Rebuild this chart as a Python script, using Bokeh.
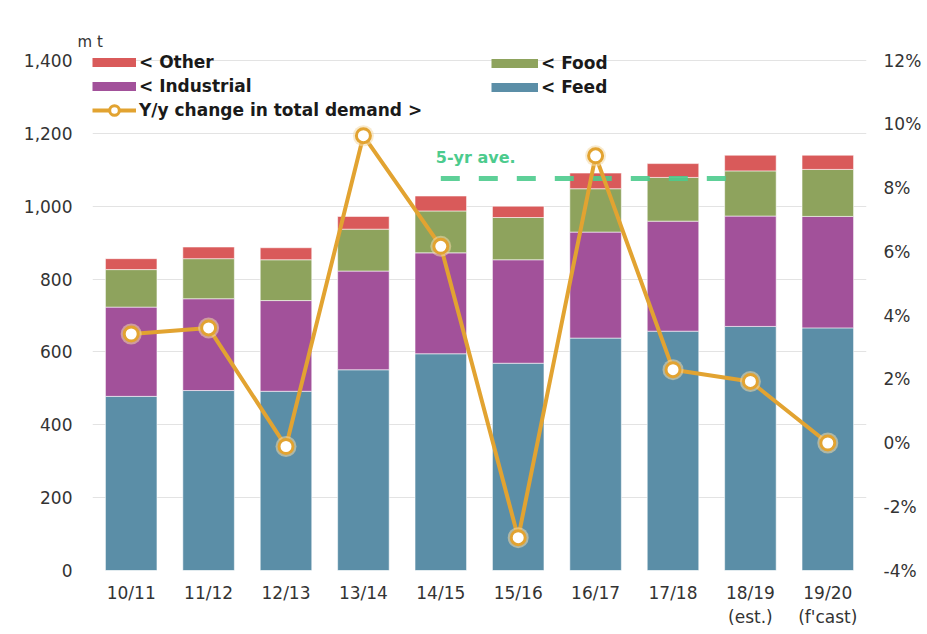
from bokeh.plotting import figure
from bokeh.models import (FactorRange, Range1d, LinearAxis, NumeralTickFormatter,
                          PrintfTickFormatter, Legend, LegendItem,
                          ColumnDataSource, FixedTicker)
from bokeh.transform import dodge
from bokeh.core.properties import value
from bokeh.embed import file_html
from bokeh.resources import INLINE

# ---------------- data ----------------
YEARS = ["10/11", "11/12", "12/13", "13/14", "14/15", "15/16", "16/17",
         "17/18", "18/19\n(est.)", "19/20\n(f'cast)"]
FEED = [478, 494, 492, 551, 595, 569, 638, 657, 670, 666]
INDUSTRIAL = [245, 252, 249, 271, 277, 284, 291, 302, 303, 306]
FOOD = [103, 110, 112, 115, 115, 116, 119, 120, 124, 129]
OTHER = [30, 32, 33, 35, 41, 31, 43, 38, 43, 39]
YOY = [3.42, 3.61, -0.11, 9.64, 6.17, -2.97, 9.01, 2.30, 1.93, 0.0]
AVE_5YR = 8.3
AVE_FROM = "14/15"
AVE_TO = "18/19\n(est.)"
LEFT_TICKS = [0, 200, 400, 600, 800, 1000, 1200, 1400]
RIGHT_TICKS = [-4, -2, 0, 2, 4, 6, 8, 10, 12]

# ---------------- style / layout ----------------
C_FEED = "#5b8ea7"
C_IND = "#a2519a"
C_FOOD = "#8ea35d"
C_OTHER = "#d95a5a"
GOLD = "#e2a331"
GREEN = "#4ccb8d"
FONT = "DejaVu Sans"
NAN = float("nan")

W, H = 925, 632
FRAME_TOP, FRAME_BOTTOM, TOP_TICK_PX = 50, 570, 60   # frame extends a bit above 1,400 so the legend fits
span_px = FRAME_BOTTOM - TOP_TICK_PX
extra = (TOP_TICK_PX - FRAME_TOP) / span_px
LEFT_MIN, LEFT_MAX = 0, 1400
RIGHT_MIN, RIGHT_MAX = -4, 12
left_top = LEFT_MAX + extra * (LEFT_MAX - LEFT_MIN)
right_top = RIGHT_MAX + extra * (RIGHT_MAX - RIGHT_MIN)

src = ColumnDataSource(dict(year=YEARS, feed=FEED, industrial=INDUSTRIAL,
                            food=FOOD, other=OTHER, yoy=YOY))

p = figure(width=W, height=H, x_range=FactorRange(*YEARS, range_padding=0),
           y_range=Range1d(LEFT_MIN, left_top), output_backend="svg",
           toolbar_location=None, title="m t",
           min_border_left=92, min_border_right=59, min_border_top=FRAME_TOP,
           min_border_bottom=H - FRAME_BOTTOM)
p.extra_y_ranges = {"pct": Range1d(RIGHT_MIN, right_top)}
p.outline_line_color = None
p.background_fill_color = "white"

p.title.text_font = FONT
p.title.text_font_size = "15px"
p.title.text_font_style = "normal"
p.title.text_color = "#333333"
p.title.align = "left"
p.title.offset = -15
p.title.standoff = 0

p.vbar_stack(["feed", "industrial", "food", "other"], x="year", width=0.666,
             color=[C_FEED, C_IND, C_FOOD, C_OTHER], source=src,
             line_color="white", line_width=0.8, line_alpha=0.7)

# 5-yr average
ave_src = ColumnDataSource(dict(x0=[AVE_FROM], x1=[AVE_TO], y=[AVE_5YR]))
p.segment(x0="x0", y0="y", x1=dodge("x1", -0.3, range=p.x_range), y1="y",
          source=ave_src, y_range_name="pct", line_color=GREEN, line_width=5,
          line_dash="19 19", line_alpha=0.9)
p.text(x="x0", y="y", text=value("5-yr ave."), source=ave_src, y_range_name="pct",
       x_offset=-5, y_offset=-21, text_align="left", text_baseline="middle",
       text_font=value(FONT), text_font_style="bold", text_font_size="16px",
       text_color=GREEN)

# y/y line
line_r = p.line(x="year", y="yoy", source=src, y_range_name="pct",
                line_color=GOLD, line_width=4)
p.scatter(x="year", y="yoy", source=src, y_range_name="pct", size=21,
          fill_color="#f2d9a6", fill_alpha=0.55, line_color=None)
sc_r = p.scatter(x="year", y="yoy", source=src, y_range_name="pct", size=14,
                 fill_color="white", line_color=GOLD, line_width=3)

# legend swatches (renderers with no visible data)
def swatch(color):
    return p.line(x=[YEARS[0], YEARS[0]], y=[NAN, NAN], line_color=color, line_width=9)

d_other, d_ind, d_food, d_feed = (swatch(c) for c in (C_OTHER, C_IND, C_FOOD, C_FEED))

def make_legend(items, loc, gw):
    return Legend(items=items, location=loc, orientation="vertical",
                  background_fill_alpha=0, border_line_alpha=0, padding=0,
                  margin=0, spacing=0, glyph_width=gw, glyph_height=24,
                  label_height=24, label_standoff=3,
                  label_text_font=FONT, label_text_font_style="bold",
                  label_text_font_size="17px", label_text_color="#1a1a1a")

fh = FRAME_BOTTOM - FRAME_TOP
leg1 = make_legend([LegendItem(label="< Other", renderers=[d_other]),
                    LegendItem(label="< Industrial", renderers=[d_ind]),
                    LegendItem(label="Y/y change in total demand >",
                               renderers=[line_r, sc_r])], (0, fh - 72), 44)
leg2 = make_legend([LegendItem(label="< Food", renderers=[d_food]),
                    LegendItem(label="< Feed", renderers=[d_feed])], (399, fh - 49), 47)
p.add_layout(leg1)
p.add_layout(leg2)

# axes
p.xgrid.grid_line_color = None
p.ygrid.grid_line_color = "#e3e3e3"
p.ygrid.grid_line_width = 1

p.yaxis.ticker = FixedTicker(ticks=LEFT_TICKS)
p.yaxis.formatter = NumeralTickFormatter(format="0,0")

right = LinearAxis(y_range_name="pct", ticker=FixedTicker(ticks=RIGHT_TICKS),
                   formatter=PrintfTickFormatter(format="%d%%"))
p.add_layout(right, "right")

for ax in [p.xaxis[0], p.yaxis[0], right]:
    ax.axis_line_color = None
    ax.major_tick_line_color = None
    ax.minor_tick_line_color = None
    ax.major_tick_out = 0
    ax.major_tick_in = 0
    ax.major_label_text_font = FONT
    ax.major_label_text_font_size = "17px"
    ax.major_label_text_color = "#333333"
p.yaxis[0].major_label_standoff = 20
right.major_label_standoff = 17
p.xaxis[0].major_label_standoff = 12

open("out.html", "w").write(file_html(p, INLINE))
